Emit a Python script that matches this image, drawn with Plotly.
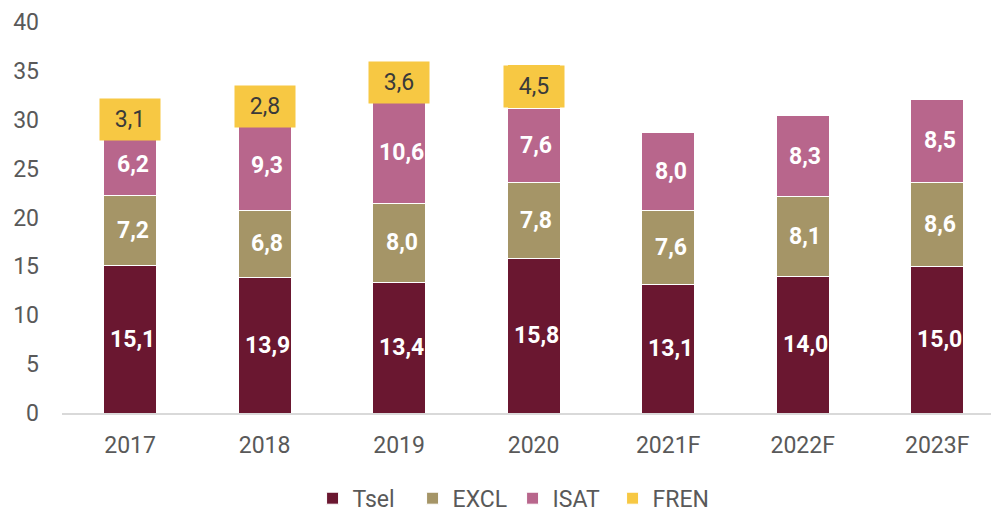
import plotly.graph_objects as go

# Subscriber figures per operator (stacked), forecast years marked with F
years = ["2017", "2018", "2019", "2020", "2021F", "2022F", "2023F"]
tsel = [15.1, 13.9, 13.4, 15.8, 13.1, 14.0, 15.0]
excl = [7.2, 6.8, 8.0, 7.8, 7.6, 8.1, 8.6]
isat = [6.2, 9.3, 10.6, 7.6, 8.0, 8.3, 8.5]
fren = [3.1, 2.8, 3.6, 4.5, None, None, None]

y_ticks = [0, 5, 10, 15, 20, 25, 30, 35, 40]

series = [
    ("Tsel", tsel, "#6a1730"),
    ("EXCL", excl, "#a59567"),
    ("ISAT", isat, "#b8668c"),
    ("FREN", fren, "#f7c843"),
]

FONT = "Roboto, DejaVu Sans, sans-serif"
BAR_W = 0.395


def fmt(v):
    return f"{v:.1f}".replace(".", ",")


fig = go.Figure()
annotations = []
base = [0.0] * len(years)

for name, vals, color in series:
    fig.add_trace(go.Bar(
        name=name,
        x=years,
        y=vals,
        width=BAR_W,
        marker=dict(color=color, line=dict(color="white", width=1)),
        hoverinfo="skip",
    ))
    for i, v in enumerate(vals):
        if v is None:
            continue
        mid = base[i] + v / 2
        # category index as x, so year-like strings are not read as numbers
        if name == "FREN":
            annotations.append(dict(
                x=i, y=mid, xref="x", yref="y",
                text=fmt(v), showarrow=False,
                bgcolor=color, width=60, height=41, borderpad=0,
                font=dict(family=FONT, size=23, color="#3a3a3a"),
            ))
        else:
            annotations.append(dict(
                x=i + 0.02, y=mid, xref="x", yref="y",
                text=f"<b>{fmt(v)}</b>", showarrow=False,
                font=dict(family=FONT, size=23, color="white"),
            ))
        base[i] += v

fig.update_layout(
    barmode="stack",
    width=991, height=520,
    margin=dict(l=62, r=0, t=22, b=107),
    paper_bgcolor="white",
    plot_bgcolor="white",
    font=dict(family=FONT, size=23, color="#595959"),
    annotations=annotations,
    showlegend=True,
    legend=dict(
        orientation="h",
        x=0.485, xanchor="center",
        y=-0.218, yanchor="middle",
        font=dict(family=FONT, size=23, color="#595959"),
        itemwidth=30,
        entrywidth=55, entrywidthmode="pixels",
        traceorder="normal",
    ),
    bargap=0.6,
)

fig.update_xaxes(
    type="category",
    range=[-0.506, 6.40],
    showgrid=False,
    showline=True, linecolor="#d9d9d9", linewidth=2,
    ticks="", ticklabelstandoff=10,
    tickfont=dict(family=FONT, size=23, color="#595959"),
)
fig.update_yaxes(
    range=[0, 40],
    tickvals=y_ticks,
    showgrid=False, zeroline=False, showline=False,
    ticks="", ticklabelstandoff=22,
    tickfont=dict(family=FONT, size=23, color="#595959"),
)

fig.write_html("out.html")
